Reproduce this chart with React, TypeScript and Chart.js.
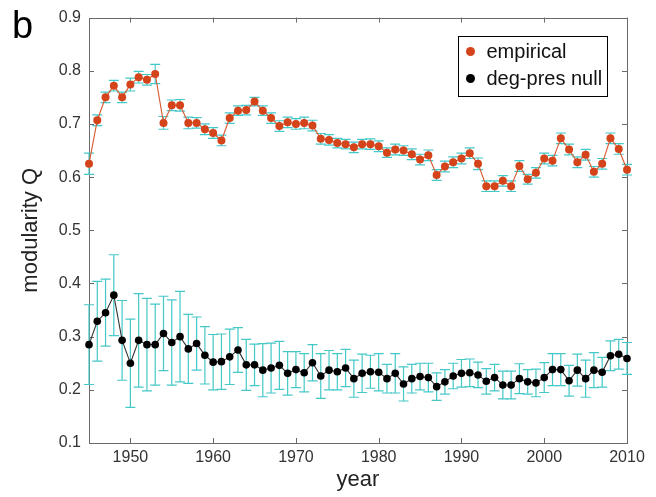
import { useEffect, useRef } from "react";
import { Chart, registerables } from "chart.js";

Chart.register(...registerables);

// Year of each observation
const YEARS = [
  1945, 1946, 1947, 1948, 1949, 1950, 1951, 1952, 1953, 1954, 1955,
  1956, 1957, 1958, 1959, 1960, 1961, 1962, 1963, 1964, 1965, 1966,
  1967, 1968, 1969, 1970, 1971, 1972, 1973, 1974, 1975, 1976, 1977,
  1978, 1979, 1980, 1981, 1982, 1983, 1984, 1985, 1986, 1987, 1988,
  1989, 1990, 1991, 1992, 1993, 1994, 1995, 1996, 1997, 1998, 1999,
  2000, 2001, 2002, 2003, 2004, 2005, 2006, 2007, 2008, 2009, 2010,
];

// Modularity Q of the observed network
const EMPIRICAL_Q = [
  0.625, 0.707, 0.750, 0.772, 0.750, 0.774, 0.788, 0.783, 0.794, 0.702, 0.735,
  0.735, 0.702, 0.702, 0.690, 0.683, 0.669, 0.711, 0.725, 0.726, 0.742, 0.725,
  0.711, 0.696, 0.703, 0.700, 0.702, 0.697, 0.672, 0.670, 0.664, 0.662, 0.656,
  0.662, 0.662, 0.658, 0.646, 0.652, 0.650, 0.643, 0.633, 0.641, 0.604, 0.620,
  0.628, 0.635, 0.645, 0.625, 0.583, 0.583, 0.593, 0.583, 0.621, 0.596, 0.608,
  0.635, 0.631, 0.673, 0.652, 0.628, 0.642, 0.610, 0.625, 0.673, 0.653, 0.614,
];

const EMPIRICAL_ERR = [
  0.020, 0.010, 0.010, 0.010, 0.010, 0.012, 0.011, 0.010, 0.018, 0.012, 0.010,
  0.011, 0.011, 0.010, 0.010, 0.010, 0.010, 0.010, 0.009, 0.009, 0.008, 0.009,
  0.010, 0.010, 0.010, 0.010, 0.011, 0.010, 0.010, 0.010, 0.009, 0.009, 0.010,
  0.009, 0.010, 0.010, 0.009, 0.010, 0.009, 0.010, 0.010, 0.010, 0.010, 0.010,
  0.010, 0.010, 0.010, 0.011, 0.010, 0.010, 0.010, 0.010, 0.010, 0.009, 0.010,
  0.010, 0.010, 0.010, 0.010, 0.010, 0.010, 0.010, 0.010, 0.010, 0.010, 0.010,
];

// Degree-preserving null model
const NULL_Q = [
  0.285, 0.329, 0.345, 0.378, 0.293, 0.250, 0.293, 0.285, 0.285, 0.306, 0.289,
  0.300, 0.277, 0.287, 0.265, 0.252, 0.253, 0.262, 0.275, 0.247, 0.247, 0.237,
  0.241, 0.246, 0.231, 0.238, 0.232, 0.251, 0.226, 0.237, 0.234, 0.241, 0.221,
  0.231, 0.234, 0.233, 0.221, 0.231, 0.211, 0.221, 0.225, 0.223, 0.206, 0.215,
  0.226, 0.231, 0.232, 0.228, 0.216, 0.223, 0.209, 0.209, 0.221, 0.215, 0.213,
  0.223, 0.238, 0.238, 0.217, 0.237, 0.221, 0.237, 0.233, 0.264, 0.267, 0.259,
];

const NULL_ERR = [
  0.075, 0.075, 0.063, 0.076, 0.075, 0.083, 0.088, 0.087, 0.076, 0.070, 0.080,
  0.085, 0.065, 0.050, 0.054, 0.052, 0.052, 0.052, 0.042, 0.048, 0.039, 0.050,
  0.047, 0.045, 0.041, 0.034, 0.036, 0.034, 0.042, 0.037, 0.034, 0.035, 0.035,
  0.036, 0.031, 0.035, 0.027, 0.037, 0.032, 0.027, 0.025, 0.027, 0.026, 0.023,
  0.024, 0.026, 0.026, 0.024, 0.024, 0.025, 0.026, 0.026, 0.028, 0.023, 0.026,
  0.028, 0.030, 0.030, 0.029, 0.030, 0.035, 0.033, 0.028, 0.028, 0.028, 0.030,
];

const X_TICKS = [1950, 1960, 1970, 1980, 1990, 2000, 2010];
const Y_TICKS = [0.1, 0.2, 0.3, 0.4, 0.5, 0.6, 0.7, 0.8, 0.9];
const SERIES_LABELS = ["empirical", "deg-pres null"];
const X_TITLE = "year";
const Y_TITLE = "modularity Q";
const PANEL_LETTER = "b";

const FONT = "'Liberation Sans', Arial, Helvetica, sans-serif";
const EMPIRICAL_COLOR = "#d4431a";
const EMPIRICAL_LINE = "#d9582f";
const NULL_COLOR = "#000000";
const NULL_LINE = "#333333";
const ERR_COLOR = "#45c8c8";
const FRAME_COLOR = "#6a6a6a";

// Vertical error bars with caps, drawn underneath lines and markers
const errorBarPlugin = {
  id: "errorBars",
  beforeDatasetsDraw(chart: any) {
    const { ctx, scales } = chart;
    const xs = scales.x;
    const ys = scales.y;
    ctx.save();
    ctx.strokeStyle = ERR_COLOR;
    ctx.lineWidth = 1.2;
    chart.data.datasets.forEach((ds: any) => {
      const errs: number[] = ds.errors;
      if (!errs) return;
      ds.data.forEach((pt: any, i: number) => {
        const x = xs.getPixelForValue(pt.x);
        const yTop = ys.getPixelForValue(pt.y + errs[i]);
        const yBot = ys.getPixelForValue(pt.y - errs[i]);
        const cap = 5;
        ctx.beginPath();
        ctx.moveTo(x, yTop);
        ctx.lineTo(x, yBot);
        ctx.moveTo(x - cap, yTop);
        ctx.lineTo(x + cap, yTop);
        ctx.moveTo(x - cap, yBot);
        ctx.lineTo(x + cap, yBot);
        ctx.stroke();
      });
    });
    ctx.restore();
  },
};

// Boxed axes with inward tick marks on all four sides
const framePlugin = {
  id: "frame",
  beforeDatasetsDraw(chart: any) {
    const { ctx, chartArea: a, scales } = chart;
    const tl = 5;
    ctx.save();
    ctx.strokeStyle = FRAME_COLOR;
    ctx.lineWidth = 1;
    ctx.strokeRect(Math.round(a.left) + 0.5, Math.round(a.top) + 0.5,
      Math.round(a.right - a.left), Math.round(a.bottom - a.top));
    ctx.beginPath();
    Y_TICKS.forEach((v) => {
      const y = Math.round(scales.y.getPixelForValue(v)) + 0.5;
      ctx.moveTo(a.left, y);
      ctx.lineTo(a.left + tl, y);
      ctx.moveTo(a.right, y);
      ctx.lineTo(a.right - tl, y);
    });
    X_TICKS.forEach((v) => {
      const x = Math.round(scales.x.getPixelForValue(v)) + 0.5;
      ctx.moveTo(x, a.bottom);
      ctx.lineTo(x, a.bottom - tl);
      ctx.moveTo(x, a.top);
      ctx.lineTo(x, a.top + tl);
    });
    ctx.stroke();
    ctx.restore();
  },
};

// Boxed legend in the upper right and the panel letter
const overlayPlugin = {
  id: "overlay",
  afterDraw(chart: any) {
    const { ctx, chartArea: a } = chart;
    ctx.save();
    const boxW = 149;
    const boxH = 60;
    const bx = Math.round(a.right - 20 - boxW) + 0.5;
    const by = Math.round(a.top + 18) + 0.5;
    ctx.fillStyle = "#ffffff";
    ctx.fillRect(bx, by, boxW, boxH);
    ctx.strokeStyle = "#000000";
    ctx.lineWidth = 1;
    ctx.strokeRect(bx, by, boxW, boxH);
    ctx.font = `20px ${FONT}`;
    ctx.textBaseline = "middle";
    ctx.textAlign = "left";
    chart.data.datasets.forEach((ds: any, i: number) => {
      const cy = by + 15 + i * 27;
      ctx.fillStyle = ds.pointBackgroundColor;
      ctx.beginPath();
      ctx.arc(bx + 12, cy, 4.5, 0, Math.PI * 2);
      ctx.fill();
      ctx.fillStyle = "#111111";
      ctx.fillText(ds.label, bx + 28, cy + 1);
    });
    ctx.fillStyle = "#000000";
    ctx.font = `38px ${FONT}`;
    ctx.textBaseline = "alphabetic";
    ctx.fillText(PANEL_LETTER, 12, 38);
    ctx.restore();
  },
};

export default function App() {
  const canvasRef = useRef<HTMLCanvasElement | null>(null);

  useEffect(() => {
    if (!canvasRef.current) return;
    const empirical = YEARS.map((yr, i) => ({ x: yr, y: EMPIRICAL_Q[i] }));
    const nullModel = YEARS.map((yr, i) => ({ x: yr, y: NULL_Q[i] }));

    const chart = new Chart(canvasRef.current, {
      type: "line",
      data: {
        datasets: [
          {
            label: SERIES_LABELS[0],
            data: empirical,
            errors: EMPIRICAL_ERR,
            borderColor: EMPIRICAL_LINE,
            borderWidth: 1.1,
            pointBackgroundColor: EMPIRICAL_COLOR,
            pointBorderWidth: 0,
            pointRadius: 4,
            tension: 0,
            clip: false,
          } as any,
          {
            label: SERIES_LABELS[1],
            data: nullModel,
            errors: NULL_ERR,
            borderColor: NULL_LINE,
            borderWidth: 1.1,
            pointBackgroundColor: NULL_COLOR,
            pointBorderWidth: 0,
            pointRadius: 3.8,
            tension: 0,
            clip: false,
          } as any,
        ],
      },
      options: {
        responsive: false,
        animation: false,
        layout: { padding: { left: 0, top: 17, right: 29, bottom: 0 } },
        plugins: {
          legend: { display: false },
          tooltip: { enabled: false },
        },
        scales: {
          x: {
            type: "linear",
            min: 1945,
            max: 2010,
            afterBuildTicks: (s: any) => {
              s.ticks = X_TICKS.map((v) => ({ value: v }));
            },
            afterFit: (s: any) => {
              s.height = 54;
            },
            grid: { display: false, drawTicks: false },
            border: { display: false },
            ticks: {
              padding: 5,
              color: "#333333",
              font: { family: FONT, size: 16 },
              maxRotation: 0,
              autoSkip: false,
              callback: (v: any) => String(v),
            },
            title: {
              display: true,
              text: X_TITLE,
              color: "#222222",
              font: { family: FONT, size: 22 },
              padding: { top: 0, bottom: 4 },
            },
          },
          y: {
            type: "linear",
            min: 0.1,
            max: 0.9,
            afterBuildTicks: (s: any) => {
              s.ticks = Y_TICKS.map((v) => ({ value: v }));
            },
            afterFit: (s: any) => {
              s.width = 89;
            },
            grid: { display: false, drawTicks: false },
            border: { display: false },
            ticks: {
              padding: 8,
              color: "#333333",
              font: { family: FONT, size: 16 },
              autoSkip: false,
              callback: (v: any) => Number(v).toFixed(1),
            },
            title: {
              display: true,
              text: Y_TITLE,
              color: "#222222",
              font: { family: FONT, size: 22 },
              padding: { top: 18, bottom: 0 },
            },
          },
        },
      } as any,
      plugins: [framePlugin, errorBarPlugin, overlayPlugin],
    });

    return () => chart.destroy();
  }, []);

  return (
    <div style={{ position: "absolute", left: 0, top: 0, width: 656, height: 497, background: "#ffffff" }}>
      <canvas ref={canvasRef} width={656} height={497} style={{ display: "block" }} />
    </div>
  );
}
